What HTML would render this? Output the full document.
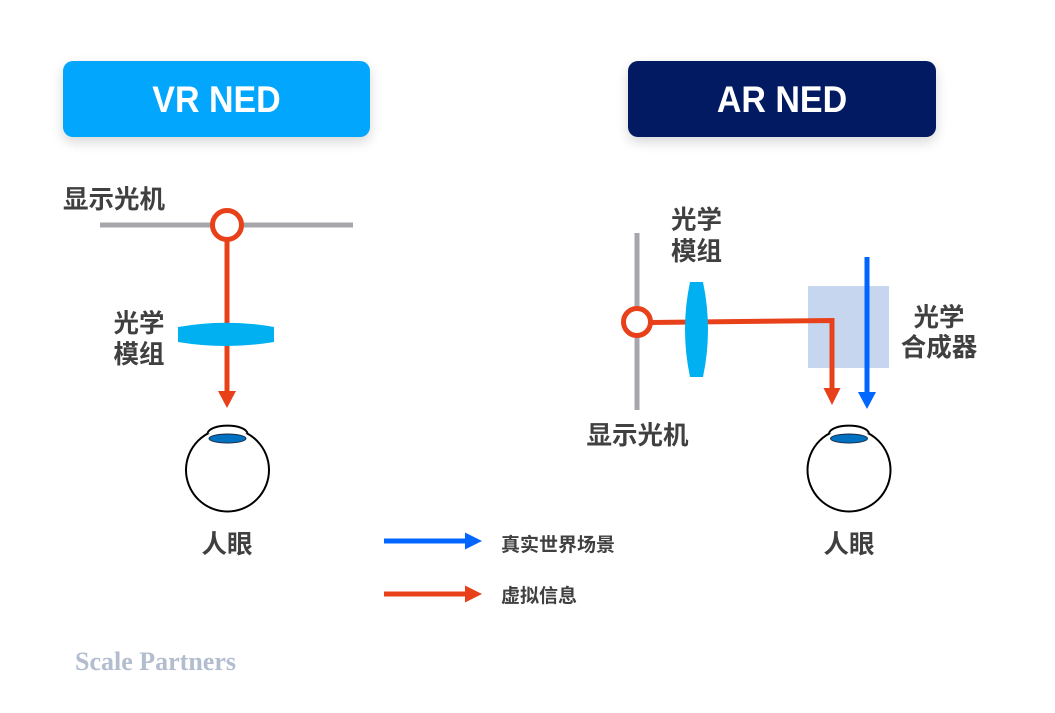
<!DOCTYPE html>
<html>
<head>
<meta charset="utf-8">
<style>
  html, body { margin: 0; padding: 0; background: #ffffff; }
  body { width: 1055px; height: 713px; position: relative; overflow: hidden; }
  .hdr {
    position: absolute; top: 61px; height: 76px; border-radius: 10px;
    box-shadow: 0 5px 12px rgba(0,0,0,0.16);
  }
  svg { position: absolute; left: 0; top: 0; }
  .lbl { font-family: "Liberation Sans", "Noto Sans CJK SC", sans-serif; font-weight: 700; fill: #404040; }
</style>
</head>
<body>
<div class="hdr" style="left:63px; width:307px; background:#02a6fd;"></div>
<div class="hdr" style="left:628px; width:308px; background:#011a62;"></div>

<svg width="1055" height="713" viewBox="0 0 1055 713" xmlns="http://www.w3.org/2000/svg">
  <!-- Headers text -->
  <text transform="translate(216.5,112) scale(1,1.1)" text-anchor="middle" font-family="Liberation Sans, sans-serif" font-weight="700" font-size="34" fill="#ffffff">VR NED</text>
  <text transform="translate(782,112) scale(1,1.1)" text-anchor="middle" font-family="Liberation Sans, sans-serif" font-weight="700" font-size="34" fill="#ffffff">AR NED</text>

  <!-- ===== VR ===== -->
  <text class="lbl" x="63" y="208" font-size="25.5">显示光机</text>
  <line x1="100" y1="225" x2="353" y2="225" stroke="#a7a6ab" stroke-width="5"/>
  <line x1="227" y1="240" x2="227" y2="393" stroke="#e8411a" stroke-width="5"/>
  <polygon points="218,391 236,391 227,408" fill="#e8411a"/>
  <circle cx="227" cy="225" r="14.5" fill="#ffffff" stroke="#e8411a" stroke-width="5"/>
  <path d="M178,327 Q226,318.4 274,327 L274,342 Q226,350 178,342 Z" fill="#00b0f0"/>
  <text class="lbl" x="139" y="332" font-size="25.5" text-anchor="middle">光学</text>
  <text class="lbl" x="139" y="363" font-size="25.5" text-anchor="middle">模组</text>

  <!-- VR eye -->
  <circle cx="227.5" cy="470" r="41.5" fill="#ffffff" stroke="#000000" stroke-width="2"/>
  <path d="M207.5,433.6 C209,423 246,423 247.5,433.6 Z" fill="#ffffff"/>
  <path d="M207.5,433.6 C209,423 246,423 247.5,433.6" fill="none" stroke="#000000" stroke-width="2"/>
  <ellipse cx="227.5" cy="438.5" rx="18.5" ry="4.5" fill="#0070c0" stroke="#1b2b44" stroke-width="1"/>
  <text class="lbl" x="227" y="553" font-size="25.5" text-anchor="middle">人眼</text>

  <!-- ===== AR ===== -->
  <rect x="808" y="286" width="81" height="82" fill="#c5d6ee"/>
  <line x1="637" y1="233" x2="637" y2="410" stroke="#a7a6ab" stroke-width="5"/>
  <polyline points="650,322.5 832,320.5 832,390" fill="none" stroke="#e8411a" stroke-width="5"/>
  <polygon points="823.5,388 840.5,388 832,405" fill="#e8411a"/>
  <line x1="867" y1="257" x2="867" y2="394" stroke="#0066ff" stroke-width="5"/>
  <polygon points="858,392 876,392 867,409" fill="#0066ff"/>
  <circle cx="637" cy="322" r="13.5" fill="#ffffff" stroke="#e8411a" stroke-width="5"/>
  <path d="M690,282 L703,282 Q713,329.5 703,377 L690,377 Q680,329.5 690,282 Z" fill="#00b0f0"/>

  <text class="lbl" x="696.5" y="228.5" font-size="25.5" text-anchor="middle">光学</text>
  <text class="lbl" x="696.5" y="260" font-size="25.5" text-anchor="middle">模组</text>
  <text class="lbl" x="939" y="326" font-size="25.5" text-anchor="middle">光学</text>
  <text class="lbl" x="939" y="356" font-size="25.5" text-anchor="middle">合成器</text>
  <text class="lbl" x="637.5" y="444" font-size="25.5" text-anchor="middle">显示光机</text>

  <!-- AR eye -->
  <circle cx="849" cy="470" r="41.5" fill="#ffffff" stroke="#000000" stroke-width="2"/>
  <path d="M829,433.6 C830.5,423 867.5,423 869,433.6 Z" fill="#ffffff"/>
  <path d="M829,433.6 C830.5,423 867.5,423 869,433.6" fill="none" stroke="#000000" stroke-width="2"/>
  <ellipse cx="849" cy="438.5" rx="18.5" ry="4.5" fill="#0070c0" stroke="#1b2b44" stroke-width="1"/>
  <text class="lbl" x="849" y="553" font-size="25.5" text-anchor="middle">人眼</text>

  <!-- Legend -->
  <line x1="384" y1="541" x2="467" y2="541" stroke="#0066ff" stroke-width="5"/>
  <polygon points="465,532.5 482,541 465,549.5" fill="#0066ff"/>
  <text class="lbl" x="501" y="551" font-size="19">真实世界场景</text>
  <line x1="384" y1="594" x2="467" y2="594" stroke="#e8411a" stroke-width="5"/>
  <polygon points="465,585.5 482,594 465,602.5" fill="#e8411a"/>
  <text class="lbl" x="501" y="602" font-size="19">虚拟信息</text>

  <!-- Watermark -->
  <text x="75" y="670" font-family="Liberation Serif, serif" font-weight="700" font-size="26" fill="#b3bdd0">Scale Partners</text>
</svg>
</body>
</html>
